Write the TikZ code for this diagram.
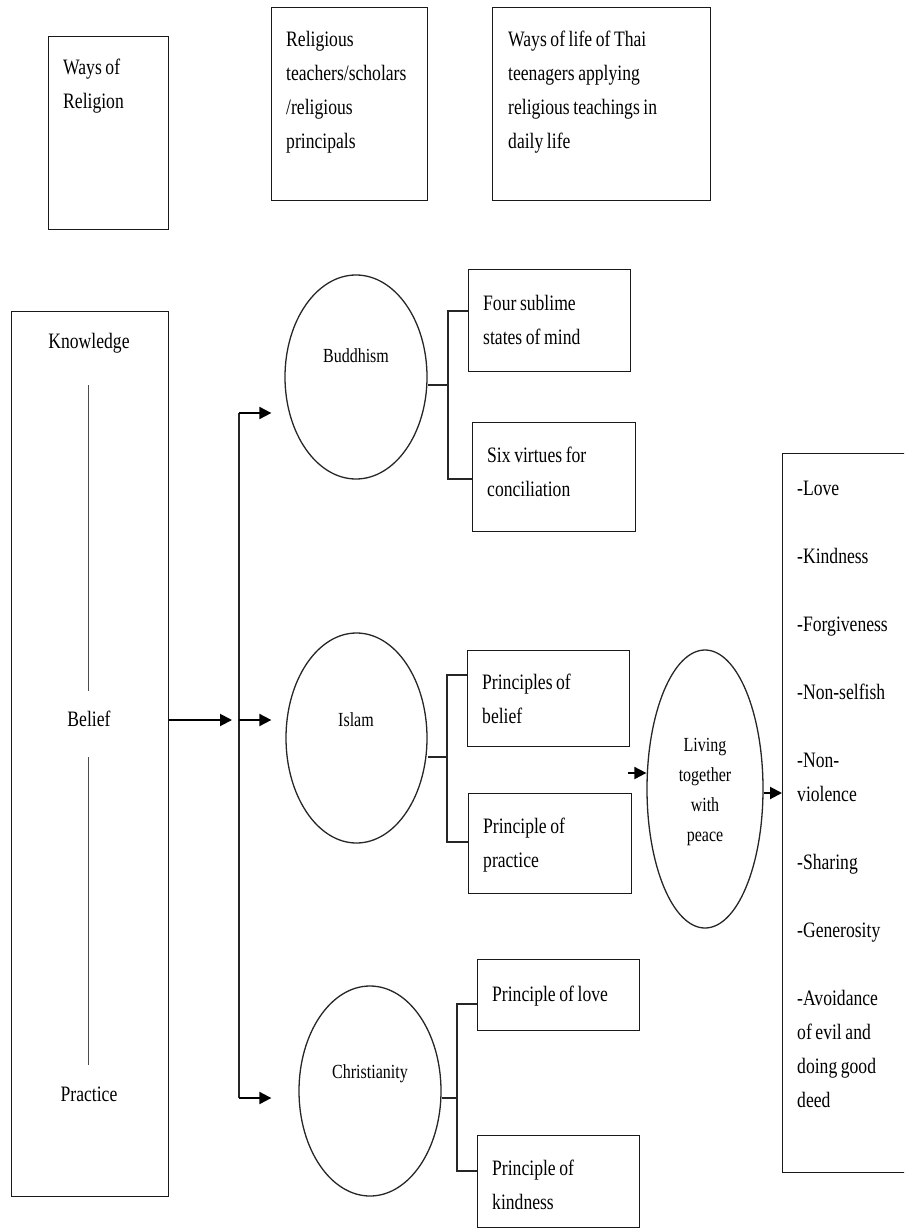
\documentclass[tikz,border=0pt]{standalone}
\usepackage{fontspec}
\setmainfont{Liberation Serif}[FakeStretch=0.8]
\usetikzlibrary{shapes.geometric,arrows.meta,calc}

% narrow interword space for the condensed face
\newcommand{\tightsp}{\spaceskip=3.6pt\xspaceskip=3.6pt\relax}

\begin{document}
\begin{tikzpicture}[x=1pt,y=-1pt,
  box/.style={draw=black!90,line width=1.4pt,inner sep=0pt,anchor=north west},
  oval/.style={draw=black!85,ellipse,line width=1.3pt,inner sep=0pt},
  txt/.style={font={\fontsize{22}{34}\selectfont},inner sep=0pt,anchor=base west,
              align=left,text width=220pt},
  ctxt/.style={font={\fontsize{22}{34}\selectfont},inner sep=0pt},
  otxt/.style={font={\fontsize{20}{30}\selectfont},inner sep=0pt,align=center},
  link/.style={draw=black!85,line width=1.4pt},
  thinline/.style={draw=black!70,line width=1pt},
  arr/.style={line width=2pt,-{Triangle[length=12pt,width=12pt]}}]

\path[use as bounding box] (0,0) rectangle (904,1230);
\clip (0,0) rectangle (904,1230);

% heading boxes
\node[box,minimum width=120,minimum height=193] (wr) at (48,36) {};
\node[txt] (wrt) at (63,75) {\tightsp Ways of\\Religion};
\node[box,minimum width=156,minimum height=193] (rt) at (271,7) {};
\node[txt] (rtt) at (286,47) {\tightsp Religious\\teachers/scholars\\/religious\\principals};
\node[box,minimum width=218,minimum height=193] (wl) at (492,7) {};
\node[txt] (wlt) at (508,47) {\tightsp Ways of life of Thai\\teenagers applying\\religious teachings in\\daily life};

% knowledge / belief / practice column
\node[box,minimum width=157,minimum height=885] (kbp) at (11,311) {};
\node[ctxt] (know) at (89,343) {Knowledge};
\node[ctxt] (bel) at (89,719) {Belief};
\node[ctxt] (prac) at (89,1094) {Practice};
\coordinate (k1) at (88,385);
\coordinate (k2) at (88,691);
\coordinate (k3) at (88,757);
\coordinate (k4) at (88,1065);
\draw[thinline] (k1) -- (k2);
\draw[thinline] (k3) -- (k4);

% distribution to the three religions
\coordinate (bt) at (232,720);
\draw[arr] (kbp.east |- bt) -- (bt);
\coordinate (bus1) at (239,413);
\coordinate (bus2) at (239,720);
\coordinate (bus3) at (239,1098);
\draw[link,line width=1.6pt] (bus1) -- (bus3);

% religions
\node[oval,minimum width=142,minimum height=204] (bud) at (356,377) {};
\node[otxt] (budt) at (356,356) {Buddhism};
\node[oval,minimum width=141,minimum height=210] (isl) at (356.5,738) {};
\node[otxt] (islt) at (356,720) {Islam};
\node[oval,minimum width=142,minimum height=210] (chr) at (370,1091) {};
\node[otxt] (chrt) at (370,1074) {Christianity};

\draw[arr] (bus1) -- ($(bus1 -| bud.west)+(-13,0)$);
\draw[arr] (bus2) -- ($(bus2 -| isl.west)+(-14,0)$);
\draw[arr] (bus3) -- ($(bus3 -| chr.west)+(-27,0)$);

% Buddhism teachings
\node[box,minimum width=162,minimum height=102] (fs) at (468,269) {};
\node[txt] (fst) at (483,310) {\tightsp Four sublime\\states of mind};
\node[box,minimum width=163,minimum height=109] (sv) at (472,422) {};
\node[txt] (svt) at (487,462) {\tightsp Six virtues for\\conciliation};
\coordinate (bj0) at (448,385);
\coordinate (bj1) at (448,311);
\coordinate (bj2) at (448,479);
\draw[link] (bud.east |- bj0) -- (bj0);
\draw[link] (fs.west |- bj1) -- (bj1) -- (bj2) -- (sv.west |- bj2);

% Islam teachings
\node[box,minimum width=162,minimum height=96] (pb) at (467,650) {};
\node[txt] (pbt) at (482,689) {\tightsp Principles of\\belief};
\node[box,minimum width=163,minimum height=100] (pp) at (468,793) {};
\node[txt] (ppt) at (483,833) {\tightsp Principle of\\practice};
\coordinate (ij0) at (447,757);
\coordinate (ij1) at (447,675);
\coordinate (ij2) at (447,842);
\draw[link] (isl.east |- ij0) -- (ij0);
\draw[link] (pb.west |- ij1) -- (ij1) -- (ij2) -- (pp.west |- ij2);

% Christianity teachings
\node[box,minimum width=162,minimum height=71] (pl) at (477,959) {};
\node[txt] (plt) at (492,1001) {\tightsp Principle of love};
\node[box,minimum width=162,minimum height=92] (pk) at (477,1135) {};
\node[txt] (pkt) at (492,1175) {\tightsp Principle of\\kindness};
\coordinate (cj0) at (457,1098);
\coordinate (cj1) at (457,1004);
\coordinate (cj2) at (457,1171);
\draw[link] (chr.east |- cj0) -- (cj0);
\draw[link] (pl.west |- cj1) -- (cj1) -- (cj2) -- (pk.west |- cj2);

% outcome
\node[oval,minimum width=116,minimum height=278] (liv) at (705,789) {};
\node[otxt] (livt) at (705,792) {Living\\together\\with\\peace};
\coordinate (lin) at (628,773);
\draw[arr] (lin) -- (lin -| liv.west);

\node[box,minimum width=140,minimum height=719] (vals) at (782,453) {};
\node[txt,text width=110pt] (valt) at (797,495) {\tightsp -Love\\[34pt]-Kindness\\[34pt]-Forgiveness\\[34pt]-Non-selfish\\[34pt]-Non-\\violence\\[34pt]-Sharing\\[34pt]-Generosity\\[34pt]-Avoidance\\of evil and\\doing good\\deed};
\draw[arr] (liv.east |- 0,793) -- (vals.west |- 0,793);

\end{tikzpicture}
\end{document}
